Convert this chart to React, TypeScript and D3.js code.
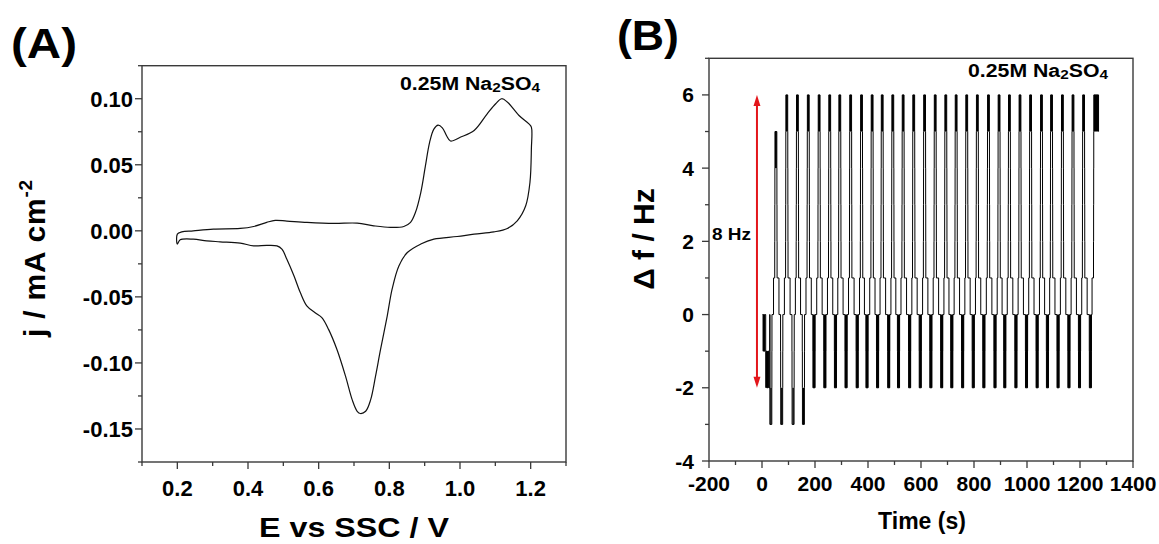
import React from 'react';
import * as d3 from 'd3';

const W = 1159;
const H = 544;
const FONT = '"Liberation Sans", Arial, Helvetica, sans-serif';

// (A) cyclic voltammogram: anodic branch 0.2 -> 1.2 V, then back
const cvE = [0.2, 0.2125, 0.245, 0.302, 0.378, 0.416, 0.453, 0.477, 0.51, 0.567, 0.643, 0.709, 0.756, 0.803,
  0.841, 0.86, 0.874, 0.889, 0.902, 0.914, 0.926, 0.938, 0.95, 0.962, 0.973, 1.002, 1.04, 1.077, 1.101, 1.118,
  1.134, 1.167, 1.195, 1.202, 1.202, 1.198, 1.186, 1.162, 1.134, 1.096, 1.04, 0.992, 0.926, 0.889, 0.851, 0.827,
  0.808, 0.794, 0.775, 0.761, 0.747, 0.733, 0.718, 0.709, 0.695, 0.676, 0.652, 0.628, 0.609, 0.59, 0.567, 0.548,
  0.53, 0.51, 0.496, 0.482, 0.453, 0.416, 0.378, 0.321, 0.283, 0.245, 0.208, 0.2];
const cvJ = [-0.0025, -0.0008, 0.0, 0.0013, 0.0018, 0.0033, 0.0064, 0.0079, 0.0074, 0.0064, 0.0056, 0.0058,
  0.0038, 0.0026, 0.0033, 0.0064, 0.014, 0.029, 0.049, 0.067, 0.077, 0.08, 0.078, 0.072, 0.068, 0.071, 0.076,
  0.0886, 0.0962, 0.1, 0.0975, 0.0873, 0.081, 0.0785, 0.062, 0.0367, 0.019, 0.0076, 0.0018, -0.0008, -0.0025,
  -0.0043, -0.0063, -0.01, -0.0164, -0.0266, -0.044, -0.0645, -0.09, -0.11, -0.128, -0.1366, -0.1383, -0.1366,
  -0.128, -0.11, -0.09, -0.0746, -0.0657, -0.062, -0.057, -0.0467, -0.034, -0.0215, -0.0139, -0.0114, -0.011,
  -0.0114, -0.0093, -0.0083, -0.0076, -0.0063, -0.0068, -0.01];

const xTicksA = [0.2, 0.4, 0.6, 0.8, 1.0, 1.2];
const xTickLabelsA = ['0.2', '0.4', '0.6', '0.8', '1.0', '1.2'];
const xMinorA = [0.1, 0.3, 0.5, 0.7, 0.9, 1.1, 1.3];
const yTicksA = [0.1, 0.05, 0, -0.05, -0.1, -0.15];
const yTickLabelsA = ['0.10', '0.05', '0.00', '-0.05', '-0.10', '-0.15'];
const yMinorA = [0.125, 0.075, 0.025, -0.025, -0.075, -0.125, -0.175];

// (B) frequency response: spikes up (times in s, peak in Hz) and spikes down
const upTimes = [53, 94, 134, 175, 216, 256, 294, 335, 376, 416, 454, 494, 533, 573, 614, 654, 694, 733, 773,
  813, 855, 895, 934, 974, 1014, 1055, 1093, 1134, 1174, 1214];
const upPeaks = [5, 6, 6, 6, 6, 6, 6, 6, 6, 6, 6, 6, 6, 6, 6, 6, 6, 6, 6, 6, 6, 6, 6, 6, 6, 6, 6, 6, 6, 6];
const downTimes = [34, 75, 118, 157, 197, 238, 278, 318, 360, 397, 437, 479, 516, 558, 598, 638, 679, 717, 758,
  798, 838, 880, 917, 959, 999, 1039, 1078, 1118, 1159, 1199, 1240];
const downLows = [-3, -3, -3, -3, -2, -2, -2, -2, -2, -2, -2, -2, -2, -2, -2, -2, -2, -2, -2, -2, -2, -2, -2, -2,
  -2, -2, -2, -2, -2, -2, -2];
const headTimes = [2, 6, 10, 14, 18, 22, 26];
const headLevels = [0, -1, 0, -1, -2, -1, -2];
const tailTimes = [1251, 1270];
const tailLevels = [6, 5];

const xTicksB = [-200, 0, 200, 400, 600, 800, 1000, 1200, 1400];
const xMinorB = [-100, 100, 300, 500, 700, 900, 1100, 1300];
const yTicksB = [6, 4, 2, 0, -2, -4];
const yMinorB = [7, 5, 3, 1, -1, -3];

const xA = d3.scaleLinear().domain([0.1, 1.3]).range([142, 566]);
const yA = d3.scaleLinear().domain([-0.175, 0.125]).range([462, 65.7]);
const xB = d3.scaleLinear().domain([-200, 1400]).range([709, 1133]);
const yB = d3.scaleLinear().domain([-4, 7]).range([461, 58.3]);

function buildSignal() {
  const pts: [number, number][] = headTimes.map((t, i) => [t, headLevels[i]]);
  let cur = headLevels[headLevels.length - 1];
  const stepTo = (t: number, lvl: number) => {
    const dir = Math.sign(lvl - cur);
    let k = 0;
    while (cur !== lvl) {
      cur += dir;
      pts.push([t + k * 0.3, cur]);
      k++;
    }
  };
  const spikes = [
    ...downTimes.map((t, i) => ({ t, lvl: downLows[i] })),
    ...upTimes.map((t, i) => ({ t, lvl: upPeaks[i] })),
  ].sort((a, b) => a.t - b.t);
  let prevT = headTimes[headTimes.length - 1];
  spikes.forEach((s) => {
    const base = s.lvl > 0 ? 1 : 0;
    stepTo((prevT + s.t) / 2, base);
    stepTo(s.t - 5, s.lvl);
    stepTo(s.t + 3, base);
    prevT = s.t;
  });
  stepTo((prevT + tailTimes[0]) / 2, 1);
  stepTo(tailTimes[0], tailLevels[0]);
  pts.push([tailTimes[1], tailLevels[1]]);
  pts.push([tailTimes[1], tailLevels[1]]);
  const blocks: [number, number, number, number][] = [
    [2, 12, -1, 0],
    [12, 26, -2, -1],
    [tailTimes[0] + 1, tailTimes[1], tailLevels[1], tailLevels[0]],
  ];
  upTimes.forEach((t, i) => blocks.push([t - 4, t + 3, upPeaks[i] - 1, upPeaks[i]]));
  downTimes.forEach((t, i) => {
    const q = downLows[i];
    if (q < -2) blocks.push([t - 3, t + 2, q, q + 1]);
    else blocks.push([t - 5, t + 4, q, 0]);
  });
  return { pts, blocks };
}

const Frame = ({ x0, x1, y0, y1 }: { x0: number; x1: number; y0: number; y1: number }) => (
  <rect x={x0} y={y0} width={x1 - x0} height={y1 - y0} fill="none" stroke="#3a3a3a" strokeWidth={1.4} />
);

export default function App() {
  const cvLine = d3.line<number>()
    .x((_, i) => xA(cvE[i]))
    .y((_, i) => yA(cvJ[i]))
    .curve(d3.curveCatmullRomClosed.alpha(0.5));
  const cvPath = cvLine(cvE) || '';

  const { pts, blocks } = buildSignal();
  const sigLine = d3.line<[number, number]>()
    .x((d) => xB(d[0]))
    .y((d) => yB(d[1]))
    .curve(d3.curveStepAfter);
  const sigPath = sigLine(pts) || '';

  const axA = { x0: xA(0.1), x1: xA(1.3), y0: yA(0.125), y1: yA(-0.175) };
  const axB = { x0: xB(-200), x1: xB(1400), y0: yB(7), y1: yB(-4) };
  const arrowX = xB(-19);
  const red = '#e3161b';

  return (
    <svg width={W} height={H} style={{ position: 'absolute', left: 0, top: 0, background: '#fff' }}
      fontFamily={FONT} fontWeight="bold">
      {/* ---------- panel A ---------- */}
      <text x={11} y={58} fontSize={42} textLength={66} lengthAdjust="spacingAndGlyphs">(A)</text>
      <Frame {...axA} />
      {xTicksA.map((v, i) => (
        <g key={'xa' + v}>
          <line x1={xA(v)} x2={xA(v)} y1={axA.y1} y2={axA.y1 + 7} stroke="#3a3a3a" strokeWidth={1.3} />
          <text x={xA(v)} y={496} fontSize={22} textAnchor="middle">{xTickLabelsA[i]}</text>
        </g>
      ))}
      {xMinorA.map((v) => (
        <line key={'xma' + v} x1={xA(v)} x2={xA(v)} y1={axA.y1} y2={axA.y1 + 4} stroke="#3a3a3a" strokeWidth={1.3} />
      ))}
      {yTicksA.map((v, i) => (
        <g key={'ya' + v}>
          <line x1={axA.x0 - 7} x2={axA.x0} y1={yA(v)} y2={yA(v)} stroke="#3a3a3a" strokeWidth={1.3} />
          <text x={133} y={yA(v) + 8} fontSize={22} textAnchor="end">{yTickLabelsA[i]}</text>
        </g>
      ))}
      {yMinorA.map((v) => (
        <line key={'yma' + v} x1={axA.x0 - 4} x2={axA.x0} y1={yA(v)} y2={yA(v)} stroke="#3a3a3a" strokeWidth={1.3} />
      ))}
      <path d={cvPath} fill="none" stroke="#111" strokeWidth={1.2} />
      <text x={400} y={90} fontSize={18} textLength={140} lengthAdjust="spacingAndGlyphs">
        0.25M Na<tspan fontSize={13} dy={2}>2</tspan><tspan dy={-2}>SO</tspan><tspan fontSize={13} dy={2}>4</tspan>
      </text>
      <text x={354} y={537} fontSize={28} textAnchor="middle" textLength={190} lengthAdjust="spacingAndGlyphs">
        E vs SSC / V
      </text>
      <text transform={`translate(45,258) rotate(-90)`} fontSize={30} textAnchor="middle" letterSpacing={0.8}>
        j / mA cm<tspan fontSize={19} dy={-13}>-2</tspan>
      </text>

      {/* ---------- panel B ---------- */}
      <text x={617} y={50} fontSize={42} textLength={62} lengthAdjust="spacingAndGlyphs">(B)</text>
      <Frame {...axB} />
      {xTicksB.map((v) => (
        <g key={'xb' + v}>
          <line x1={xB(v)} x2={xB(v)} y1={axB.y1} y2={axB.y1 + 7} stroke="#3a3a3a" strokeWidth={1.3} />
          <text x={xB(v)} y={491} fontSize={21} textAnchor="middle">{String(v)}</text>
        </g>
      ))}
      {xMinorB.map((v) => (
        <line key={'xmb' + v} x1={xB(v)} x2={xB(v)} y1={axB.y1} y2={axB.y1 + 4} stroke="#3a3a3a" strokeWidth={1.3} />
      ))}
      {yTicksB.map((v) => (
        <g key={'yb' + v}>
          <line x1={axB.x0 - 7} x2={axB.x0} y1={yB(v)} y2={yB(v)} stroke="#3a3a3a" strokeWidth={1.3} />
          <text x={694} y={yB(v) + 7.5} fontSize={21} textAnchor="end">{String(v)}</text>
        </g>
      ))}
      {yMinorB.map((v) => (
        <line key={'ymb' + v} x1={axB.x0 - 4} x2={axB.x0} y1={yB(v)} y2={yB(v)} stroke="#3a3a3a" strokeWidth={1.3} />
      ))}
      {blocks.map((b, i) => (
        <rect key={'blk' + i} x={xB(b[0])} y={yB(b[3])} width={Math.max(0, xB(b[1]) - xB(b[0]))}
          height={yB(b[2]) - yB(b[3])} fill="#000" />
      ))}
      <path d={sigPath} fill="none" stroke="#000" strokeWidth={1} />
      {/* 8 Hz span arrow */}
      <line x1={arrowX} x2={arrowX} y1={yB(6) + 8} y2={yB(-2) - 8} stroke={red} strokeWidth={2} />
      <polygon points={`${arrowX},${yB(6)} ${arrowX - 3.5},${yB(6) + 11} ${arrowX + 3.5},${yB(6) + 11}`} fill={red} />
      <polygon points={`${arrowX},${yB(-2)} ${arrowX - 3.5},${yB(-2) - 11} ${arrowX + 3.5},${yB(-2) - 11}`} fill={red} />
      <text x={712} y={239.5} fontSize={17} textLength={39} lengthAdjust="spacingAndGlyphs">8 Hz</text>
      <text x={968} y={77} fontSize={18} textLength={140} lengthAdjust="spacingAndGlyphs">
        0.25M Na<tspan fontSize={13} dy={2}>2</tspan><tspan dy={-2}>SO</tspan><tspan fontSize={13} dy={2}>4</tspan>
      </text>
      <text x={922} y={529} fontSize={23} textAnchor="middle">Time (s)</text>
      <text transform={`translate(654,239) rotate(-90)`} fontSize={30} textAnchor="middle">Δ f / Hz</text>
    </svg>
  );
}
